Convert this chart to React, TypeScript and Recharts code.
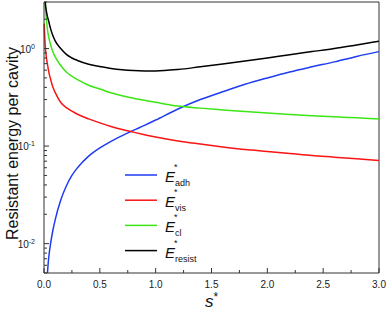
import React from 'react';
import { LineChart, Line, XAxis, YAxis, ReferenceLine } from 'recharts';

// s* sample positions
const sPoints = [
  0.002, 0.005, 0.01, 0.025, 0.03, 0.04, 0.05, 0.06, 0.08, 0.1, 0.15, 0.2, 0.25, 0.3, 0.4, 0.5,
  0.6, 0.7, 0.8, 0.9, 1.0, 1.2, 1.4, 1.6, 1.8, 2.0, 2.2, 2.4, 2.6, 2.8, 3.0,
];

const adh = [
  null, null, null, null, 0.0048, 0.0068, 0.0085, 0.0102, 0.0138, 0.0175, 0.028, 0.039, 0.05, 0.06,
  0.079, 0.096, 0.112, 0.128, 0.145, 0.163, 0.185, 0.24, 0.3, 0.36, 0.43, 0.5, 0.575, 0.65, 0.73,
  0.83, 0.93,
];
const vis = [
  1.8, 1.45, 1.12, 0.76, 0.7, 0.6, 0.53, 0.48, 0.4, 0.355, 0.28, 0.248, 0.228, 0.212, 0.19, 0.173,
  0.159, 0.148, 0.139, 0.131, 0.124, 0.113, 0.105, 0.098, 0.092, 0.088, 0.084, 0.08, 0.077, 0.074,
  0.071,
];
const cl = [
  4.2, 3.6, 2.9, 1.8, 1.6, 1.35, 1.2, 1.08, 0.92, 0.82, 0.67, 0.575, 0.52, 0.48, 0.42, 0.385, 0.352,
  0.328, 0.31, 0.295, 0.281, 0.257, 0.245, 0.235, 0.226, 0.218, 0.211, 0.205, 0.2, 0.195, 0.19,
];
const resist = [
  6.0, 4.3, 3.1, 2.3, 2.15, 1.95, 1.75, 1.58, 1.35, 1.2, 1.0, 0.87, 0.8, 0.755, 0.69, 0.655, 0.625,
  0.605, 0.594, 0.59, 0.59, 0.61, 0.65, 0.695, 0.745, 0.8, 0.865, 0.93, 1.0, 1.09, 1.19,
];

const xTicks = [0, 0.25, 0.5, 0.75, 1, 1.25, 1.5, 1.75, 2, 2.25, 2.5, 2.75, 3];
const yMajor = [0.01, 0.1, 1];
const yTicks = [
  0.005, 0.006, 0.007, 0.008, 0.009, 0.01, 0.02, 0.03, 0.04, 0.05, 0.06, 0.07, 0.08, 0.09, 0.1, 0.2,
  0.3, 0.4, 0.5, 0.6, 0.7, 0.8, 0.9, 1, 2, 3,
];

const series = [
  { key: 'adh', sub: 'adh', color: '#1f3cf2' },
  { key: 'vis', sub: 'vis', color: '#fa1414' },
  { key: 'cl', sub: 'cl', color: '#3ce614' },
  { key: 'resist', sub: 'resist', color: '#000000' },
];

const data = sPoints.map((s, i) => ({
  s,
  adh: adh[i],
  vis: vis[i],
  cl: cl[i],
  resist: resist[i],
}));

const FONT = '"Liberation Sans", Arial, sans-serif';
const AXIS = '#333';

function YTick(props: any) {
  const { x, y, payload } = props;
  const axisX = x + 8; // tickSize 6 + tickMargin 2
  const v = payload.value;
  const major = yMajor.some((m) => Math.abs(m - v) < 1e-9);
  return (
    <g>
      <line x1={axisX} x2={axisX + (major ? 5 : 3)} y1={y} y2={y} stroke={AXIS} />
      {major && (
        <text x={axisX - 9} y={y + 4} textAnchor="end" fontSize={10} fill="#222" fontFamily={FONT}>
          10
          <tspan dy={-4} fontSize={7}>
            {Math.round(Math.log10(v))}
          </tspan>
        </text>
      )}
    </g>
  );
}

function XTick(props: any) {
  const { x, y, payload } = props;
  const axisY = y - 8;
  const v = payload.value;
  const major = Math.abs(v * 2 - Math.round(v * 2)) < 1e-9;
  return (
    <g>
      <line x1={x} x2={x} y1={axisY} y2={axisY - (major ? 5 : 3)} stroke={AXIS} />
      {major && (
        <text x={x} y={y + 7} textAnchor="middle" fontSize={10} fill="#222" fontFamily={FONT}>
          {v.toFixed(1)}
        </text>
      )}
    </g>
  );
}

export default function App() {
  return (
    <div style={{ position: 'fixed', left: 0, top: 0, width: 388, height: 310, background: '#fff' }}>
      <LineChart width={388} height={310} data={data} margin={{ top: 2, right: 9, bottom: 0, left: 0 }}>
        <XAxis
          dataKey="s"
          type="number"
          domain={[0, 3]}
          ticks={xTicks}
          interval={0}
          height={37}
          tickSize={6}
          tickMargin={2}
          tickLine={false}
          stroke={AXIS}
          tick={<XTick />}
          label={{
            content: (p: any) => (
              <text
                x={p.viewBox.x + p.viewBox.width / 2}
                y={p.viewBox.y + 34}
                textAnchor="middle"
                fontSize={17}
                fontFamily={FONT}
                fill="#111"
              >
                <tspan fontStyle="italic">s</tspan>
                <tspan dy={-6} fontSize={12}>*</tspan>
              </text>
            ),
          }}
        />
        <YAxis
          type="number"
          scale="log"
          domain={[0.005, 3]}
          allowDataOverflow
          ticks={yTicks}
          interval={0}
          width={44}
          tickSize={6}
          tickMargin={2}
          tickLine={false}
          stroke={AXIS}
          tick={<YTick />}
          label={{
            content: (p: any) => {
              const cx = p.viewBox.x + 12;
              const cy = p.viewBox.y + p.viewBox.height / 2 + 6;
              return (
                <text
                  x={cx}
                  y={cy}
                  transform={`rotate(-90 ${cx} ${cy})`}
                  textAnchor="middle"
                  dominantBaseline="central"
                  fontSize={16}
                  fontFamily={FONT}
                  fill="#111"
                >
                  Resistant energy per cavity
                </text>
              );
            },
          }}
        />
        <ReferenceLine y={3} stroke={AXIS} />
        <ReferenceLine x={3} stroke={AXIS} />
        {series.map((sr) => (
          <Line
            key={sr.key}
            dataKey={sr.key}
            type="monotone"
            stroke={sr.color}
            strokeWidth={1.5}
            dot={false}
            connectNulls={false}
            isAnimationActive={false}
          />
        ))}
      </LineChart>
      <svg
        width={388}
        height={310}
        style={{ position: 'absolute', left: 0, top: 0, pointerEvents: 'none' }}
      >
        {series.map((sr, i) => {
          const ly = 175 + i * 25.2;
          return (
            <g key={sr.key} fontFamily={FONT} fill="#111">
              <line x1={125} x2={157} y1={ly} y2={ly} stroke={sr.color} strokeWidth={1.5} />
              <text x={165} y={ly + 7} fontSize={15} fontStyle="italic">
                E
              </text>
              <text x={174} y={ly - 5} fontSize={9}>
                *
              </text>
              <text x={175} y={ly + 11} fontSize={9}>
                {sr.sub}
              </text>
            </g>
          );
        })}
      </svg>
    </div>
  );
}
